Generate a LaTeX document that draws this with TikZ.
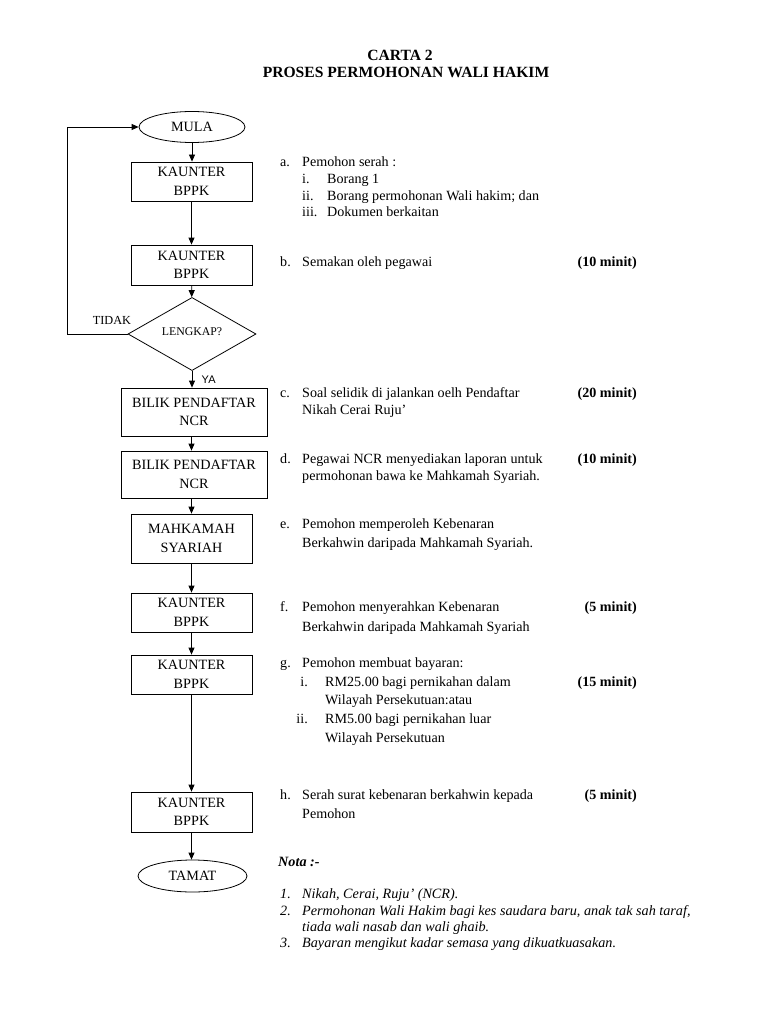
\documentclass[tikz,border=0pt]{standalone}
\usepackage{fontspec}
\setmainfont{Liberation Serif}
\newfontfamily\arialfont{Liberation Sans}
\usetikzlibrary{shapes.geometric,arrows.meta}
\begin{document}
\begin{tikzpicture}[x=1pt,y=-1pt,
  box/.style={draw,line width=0.8pt,minimum width=121pt,minimum height=39pt,align=center,inner sep=0pt,font=\fontsize{14.2}{18.5}\selectfont},
  term/.style={draw,ellipse,line width=0.8pt,minimum width=106pt,minimum height=31pt,inner sep=0pt,font=\fontsize{14.2}{16}\selectfont},
  dec/.style={draw,diamond,line width=0.8pt,minimum width=128pt,minimum height=52pt,inner sep=0pt,font=\fontsize{11.8}{13}\selectfont},
  flow/.style={line width=0.8pt,-{Triangle[length=7pt,width=6pt]}},
  txt/.style={anchor=base west,inner sep=0pt,font=\fontsize{14.1}{16}\selectfont},
  mn/.style={anchor=base east,inner sep=0pt,font=\fontsize{14.1}{16}\selectfont\bfseries},
  nt/.style={anchor=base west,inner sep=0pt,font=\fontsize{14.2}{16}\selectfont\itshape},
  ttl/.style={anchor=base,inner sep=0pt,font=\fontsize{15.6}{18}\selectfont\bfseries}]
\useasboundingbox[fill=white] (0,0) rectangle (768,1024);

% title
\node[ttl] (t1) at (400,61) {CARTA 2};
\node[ttl] (t2) at (406,78) {PROSES PERMOHONAN WALI HAKIM};

% flowchart
\node[term] (mula) at (192,127) {MULA};
\node[box] (b1) at (191.5,181.5) {KAUNTER\\BPPK};
\node[box,minimum height=40pt] (b2) at (191.5,265) {KAUNTER\\BPPK};
\node[dec] (d) at (192,334) {\raisebox{5pt}{LENGKAP?}};
\node[box,minimum width=146pt,minimum height=48pt] (b3) at (194,412) {BILIK PENDAFTAR\\NCR};
\node[box,minimum width=146pt,minimum height=47pt] (b4) at (194,474.5) {BILIK PENDAFTAR\\NCR};
\node[box,minimum height=49pt] (b5) at (191.5,538.5) {MAHKAMAH\\SYARIAH};
\node[box] (b6) at (191.5,612.5) {KAUNTER\\BPPK};
\node[box] (b7) at (191.5,674.5) {KAUNTER\\BPPK};
\node[box,minimum height=40pt] (b8) at (191.5,812) {KAUNTER\\BPPK};
\node[term,minimum width=109pt,minimum height=32pt] (tamat) at (192.5,876) {TAMAT};

\draw[flow] (mula.south) -- (b1.north -| mula.south);
\draw[flow] (b1) -- (b2);
\draw[flow] (b2) -- (d);
\draw[flow] (d.south) -- (b3.north -| d.south) node[pos=0.5,right=6pt,font=\arialfont\fontsize{11}{12}\selectfont] (ya) {YA};
\draw[flow] (b3.south -| b1.south) -- (b4.north -| b1.south);
\draw[flow] (b4.south -| b1.south) -- (b5.north);
\draw[flow] (b5) -- (b6);
\draw[flow] (b6) -- (b7);
\draw[flow] (b7) -- (b8);
\draw[flow] (b8.south) -- (tamat.north -| b8.south);
\coordinate (lp) at (67,334);
\draw[flow] (d.west) -- (lp) |- (mula.west);
\node[font=\fontsize{12.3}{13}\selectfont] (tidak) at (112,320) {TIDAK};

% description column
\node[txt] (la) at (280,167) {a.};
\node[txt] (ta) at (302,167) {Pemohon serah :};
\node[txt] (lai) at (302,184) {i.};
\node[txt] (tai) at (327,184) {Borang 1};
\node[txt] (laii) at (302,201) {ii.};
\node[txt] (taii) at (327,201) {Borang permohonan Wali hakim; dan};
\node[txt] (laiii) at (302,217) {iii.};
\node[txt] (taiii) at (327,217) {Dokumen berkaitan};

\node[txt] (lb) at (280,266) {b.};
\node[txt] (tb) at (302,266) {Semakan oleh pegawai};
\node[mn] (mb) at (637,266) {(10 minit)};

\node[txt] (lc) at (280,397) {c.};
\node[txt] (tc) at (302,397) {Soal selidik di jalankan oelh Pendaftar};
\node[txt] (tc2) at (302,414) {Nikah Cerai Ruju'};
\node[mn] (mc) at (637,397) {(20 minit)};

\node[txt] (ld) at (280,463) {d.};
\node[txt] (td) at (302,463) {Pegawai NCR menyediakan laporan untuk};
\node[txt] (td2) at (302,480) {permohonan bawa ke Mahkamah Syariah.};
\node[mn] (md) at (637,463) {(10 minit)};

\node[txt] (le) at (280,528) {e.};
\node[txt] (te) at (302,528) {Pemohon memperoleh Kebenaran};
\node[txt] (te2) at (302,547) {Berkahwin daripada Mahkamah Syariah.};

\node[txt] (lf) at (280,611) {f.};
\node[txt] (tf) at (302,611) {Pemohon menyerahkan Kebenaran};
\node[txt] (tf2) at (302,631) {Berkahwin daripada Mahkamah Syariah};
\node[mn] (mf) at (637,611) {(5 minit)};

\node[txt] (lg) at (280,667) {g.};
\node[txt] (tg) at (302,667) {Pemohon membuat bayaran:};
\node[txt,anchor=base east] (lgi) at (308,686) {i.};
\node[txt] (tgi) at (325,686) {RM25.00 bagi pernikahan dalam};
\node[txt] (tgi2) at (325,704) {Wilayah Persekutuan:atau};
\node[mn] (mg) at (637,686) {(15 minit)};
\node[txt,anchor=base east] (lgii) at (308,723) {ii.};
\node[txt] (tgii) at (325,723) {RM5.00 bagi pernikahan luar};
\node[txt] (tgii2) at (325,742) {Wilayah Persekutuan};

\node[txt] (lh) at (280,799) {h.};
\node[txt] (th) at (302,799) {Serah surat kebenaran berkahwin kepada};
\node[txt] (th2) at (302,818) {Pemohon};
\node[mn] (mh) at (637,799) {(5 minit)};

% notes
\node[nt,font=\fontsize{14.2}{16}\selectfont\bfseries\itshape] (nota) at (278,866) {Nota :-};
\node[nt] (n1l) at (280,898) {1.};
\node[nt] (n1) at (302,898) {Nikah, Cerai, Ruju' (NCR).};
\node[nt] (n2l) at (280,915) {2.};
\node[nt] (n2) at (302,915) {Permohonan Wali Hakim bagi kes saudara baru, anak tak sah taraf,};
\node[nt] (n22) at (302,931) {tiada wali nasab dan wali ghaib.};
\node[nt] (n3l) at (280,947) {3.};
\node[nt] (n3) at (302,947) {Bayaran mengikut kadar semasa yang dikuatkuasakan.};
\end{tikzpicture}
\end{document}
